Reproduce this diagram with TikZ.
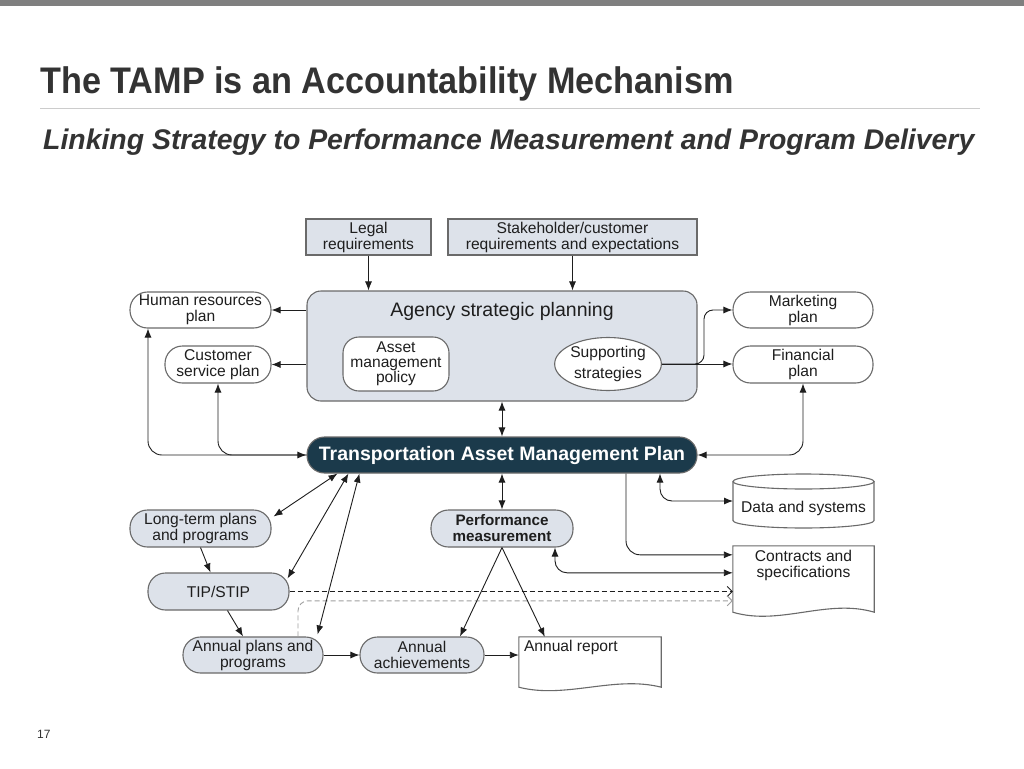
\documentclass[tikz,border=0pt]{standalone}
\usepackage{fontspec}
\setmainfont{Liberation Sans}
\usetikzlibrary{arrows.meta,calc,shapes.geometric}
\definecolor{boxfill}{HTML}{DDE2EA}
\definecolor{tampfill}{HTML}{1B3A4B}
\definecolor{edge}{HTML}{6A6A6A}
\definecolor{ink}{HTML}{1E1E1E}
\definecolor{titlegray}{HTML}{333333}
\begin{document}
\begin{tikzpicture}[x=1pt,y=-1pt,
  every node/.style={font=\fontsize{15.6}{16}\selectfont, text=ink},
  box/.style={draw=edge, line width=1.1pt, fill=boxfill, inner sep=0pt, align=center},
  pill/.style={draw=edge, line width=1.1pt, inner sep=0pt, align=center, rounded corners=17.5pt},
  conn/.style={draw=ink, line width=0.9pt},
  dashline/.style={dash pattern=on 5pt off 3pt},
  >={Latex[length=9pt,width=7pt]},
  openbarb/.style={-{Straight Barb[length=5pt,width=10pt]}},
  docshape/.style={draw=edge, line width=1.1pt, fill=white}
]
\useasboundingbox (0,0) rectangle (1024,768);
\fill[white] (0,0) rectangle (1024,768);
\fill[color={rgb,255:red,127;green,127;blue,127}] (0,0) rectangle (1024,6);

% title block
\node[anchor=base west, inner sep=0pt, text=titlegray, font=\bfseries\fontsize{37}{38}\selectfont] (title) at (40,93) {\scalebox{0.925}[1]{The TAMP is an Accountability Mechanism}};
\draw[line width=1pt, draw=gray!40] (40,108) -- (980,108);
\node[anchor=base west, inner sep=0pt, text=titlegray, font=\bfseries\itshape\fontsize{28.4}{29}\selectfont] (subtitle) at (43,149) {Linking Strategy to Performance Measurement and Program Delivery};
\node[anchor=base west, inner sep=0pt, text=titlegray, font=\fontsize{12}{12}\selectfont] (pagenum) at (37,738) {17};

% top inputs
\node[box, minimum width=125pt, minimum height=36pt] (legal) at (368.5,237) {Legal\\requirements};
\node[box, minimum width=249pt, minimum height=36pt] (stake) at (572.5,237) {Stakeholder/customer\\requirements and expectations};

% agency strategic planning
\node[box, rounded corners=14pt, minimum width=390pt, minimum height=110pt] (agency) at (502,346) {};
\node[font=\fontsize{19.5}{20}\selectfont, inner sep=0pt] (agencyt) at (502,311) {Agency strategic planning};
\node[pill, fill=white, rounded corners=16pt, minimum width=106pt, minimum height=54pt, font=\fontsize{15.6}{15}\selectfont] (amp) at (396,364) {Asset\\management\\policy};
\node[draw=edge, line width=1.1pt, fill=white, ellipse, minimum width=106pt, minimum height=53pt, inner sep=0pt, align=center, font=\fontsize{15.6}{20.5}\selectfont] (supp) at (608,364) {Supporting\\strategies};

% side plans
\node[pill, fill=white, minimum width=141pt, minimum height=36pt] (hr) at (200.5,310) {Human resources\\plan};
\node[pill, fill=white, minimum width=106pt, minimum height=37pt] (cs) at (218,364.5) {Customer\\service plan};
\node[pill, fill=white, minimum width=140pt, minimum height=36pt] (mkt) at (803,310) {Marketing\\plan};
\node[pill, fill=white, minimum width=140pt, minimum height=37pt] (fin) at (803,364.5) {Financial\\plan};

% TAMP
\node[pill, fill=tampfill, text=white, minimum width=390pt, minimum height=36pt, font=\bfseries\fontsize{19.5}{20}\selectfont] (tamp) at (502,455) {Transportation Asset Management Plan};

% lower left
\node[pill, fill=boxfill, minimum width=141pt, minimum height=37pt] (lt) at (200.5,528.5) {Long-term plans\\and programs};
\node[pill, fill=boxfill, minimum width=142pt, minimum height=37pt, font=\bfseries\fontsize{15.2}{16}\selectfont] (pm) at (502,528.5) {Performance\\measurement};
\node[pill, fill=boxfill, minimum width=141pt, minimum height=37pt] (tipstip) at (218.5,591.5) {TIP/STIP};
\node[pill, fill=boxfill, minimum width=140pt, minimum height=36pt] (ap) at (253,655) {Annual plans and\\programs};
\node[pill, fill=boxfill, minimum width=124pt, minimum height=36pt] (aa) at (422,655) {Annual\\achievements};

% data and systems (cylinder)
\coordinate (dsnw) at (733,481.5);
\coordinate (dsse) at (874,520.5);
\draw[docshape] (dsnw) -- (dsnw |- dsse)
  .. controls ($(dsnw |- dsse)+(0,4.14)$) and ($(dsnw |- dsse)+(31.6,7.5)$) .. ($(dsnw |- dsse)+(70.5,7.5)$)
  .. controls ($(dsse)+(-31.6,7.5)$) and ($(dsse)+(0,4.14)$) .. (dsse)
  -- (dsse |- dsnw);
\draw[docshape] ($(dsnw)+(70.5,0)$) ellipse [x radius=70.5pt, y radius=7.5pt];
\node[inner sep=0pt] (data) at (803.5,508) {Data and systems};

% contracts and specifications (document)
\node[inner sep=0pt, minimum width=141pt, minimum height=66pt] (ctr) at (803.5,579) {};
\draw[docshape] (ctr.south west) -- (ctr.north west) -- (ctr.north east) -- (ctr.south east)
  .. controls ([xshift=-47pt,yshift=14pt]ctr.south east) and ([xshift=47pt,yshift=-14pt]ctr.south west) .. (ctr.south west) -- cycle;
\node[anchor=north, align=center, inner sep=0pt] (ctrt) at ([yshift=-4pt]ctr.north) {Contracts and\\specifications};

% annual report (document)
\node[inner sep=0pt, minimum width=142pt, minimum height=50pt] (ar) at (590,662) {};
\draw[docshape] (ar.south west) -- (ar.north west) -- (ar.north east) -- (ar.south east)
  .. controls ([xshift=-47pt,yshift=12pt]ar.south east) and ([xshift=47pt,yshift=-12pt]ar.south west) .. (ar.south west) -- cycle;
\node[anchor=north west, inner sep=0pt] (art) at ([xshift=5pt,yshift=-3pt]ar.north west) {Annual report};

% connectors
\draw[conn,->] (legal.south) -- (legal.south |- agency.north);
\draw[conn,->] (stake.south) -- (stake.south |- agency.north);
\draw[conn,->] (agency.west |- hr.east) -- (hr.east);
\draw[conn,->] (agency.west |- cs.east) -- (cs.east);
\draw[conn,<->] (agency.south) -- (tamp.north);
\draw[conn,<->] (tamp.south) -- (pm.north);
\draw[conn,->] (supp.east) -- (supp.east -| fin.west);
\coordinate (mkx) at (704,0);
\draw[conn,->,rounded corners=9pt] (supp.east) -- (mkx |- supp.east) |- (mkt.west);

\coordinate (hrx) at (148,0);
\draw[conn,<->,rounded corners=14pt] (hrx |- hr.south) |- (tamp.west);
\draw[conn,<-,rounded corners=14pt] (cs.south) |- (tamp.west);
\draw[conn,<->,rounded corners=14pt] (fin.south) |- (tamp.east);

\coordinate (dx) at (660,0);
\draw[conn,<->,rounded corners=12pt] (dx |- tamp.south) |- (dsnw |- 0,501);
\coordinate (cx) at (626,0);
\draw[conn,->,rounded corners=14pt] (cx |- tamp.south) |- ([yshift=-9pt]ctr.north west);
\coordinate (px) at (555,0);
\draw[conn,<->,rounded corners=12pt] (px |- pm.south) |- ([yshift=-27pt]ctr.north west);

\draw[conn, dashline, openbarb] (tipstip.east) -- (tipstip.east -| ctr.west);
\coordinate (gx) at (298,0);
\draw[conn, draw=gray!75, dashline, rounded corners=10pt, openbarb] (gx |- ap.north) |- ([yshift=-55pt]ctr.north west);

\draw[conn,<->] ([xshift=2pt,yshift=12pt]lt.east) -- ([xshift=31pt]tamp.south west);
\draw[conn,<->] ([xshift=-2pt,yshift=-6pt]tipstip.north east) -- ([xshift=42pt]tamp.south west);
\draw[conn,<->] ([xshift=-6pt,yshift=2pt]ap.north east) -- ([xshift=53pt]tamp.south west);
\draw[conn,->] (lt.south) -- ([xshift=-8pt]tipstip.north);
\draw[conn,->] ([xshift=9pt]tipstip.south) -- ([xshift=-10pt]ap.north);
\draw[conn,->] (ap.east) -- (aa.west);
\draw[conn,->] (aa.east) -- (aa.east -| ar.west);
\draw[conn,->] (pm.south) -- ([xshift=38pt]aa.north);
\draw[conn,->] (pm.south) -- ([xshift=26pt]ar.north west);
\end{tikzpicture}
\end{document}
